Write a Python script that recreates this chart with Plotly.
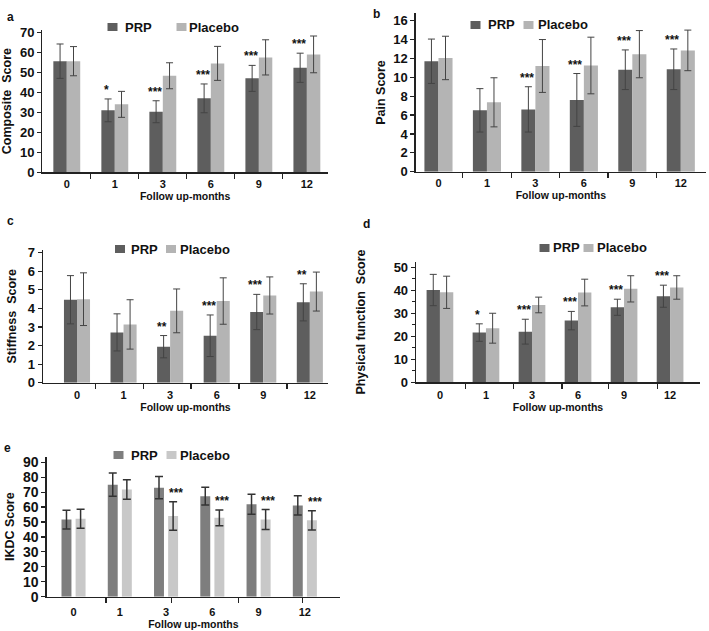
import plotly.graph_objects as go

# ---------------- data ----------------
months = ["0", "1", "3", "6", "9", "12"]
groups = ["PRP", "Placebo"]

# a: Composite score
composite_prp = [55.6, 31.0, 30.3, 37.0, 47.0, 52.3]
composite_prp_sd = [8.6, 5.7, 5.5, 7.2, 6.5, 7.3]
composite_placebo = [55.6, 34.0, 48.3, 54.5, 57.5, 59.0]
composite_placebo_sd = [7.3, 6.5, 6.5, 8.5, 8.8, 9.2]
composite_sig = ["", "*", "***", "***", "***", "***"]

# b: Pain score
pain_prp = [11.7, 6.5, 6.6, 7.6, 10.8, 10.85]
pain_prp_sd = [2.35, 2.3, 2.4, 2.8, 2.1, 2.15]
pain_placebo = [12.05, 7.35, 11.2, 11.25, 12.45, 12.85]
pain_placebo_sd = [2.3, 2.6, 2.8, 3.0, 2.5, 2.15]
pain_sig = ["", "", "***", "***", "***", "***"]

# c: Stiffness score
stiff_prp = [4.47, 2.71, 1.94, 2.53, 3.81, 4.33]
stiff_prp_sd = [1.3, 1.0, 0.6, 1.12, 0.95, 1.0]
stiff_placebo = [4.5, 3.14, 3.87, 4.4, 4.7, 4.91]
stiff_placebo_sd = [1.42, 1.33, 1.18, 1.25, 1.0, 1.05]
stiff_sig = ["", "", "**", "***", "***", "**"]

# d: Physical function score
phys_prp = [40.1, 21.6, 22.0, 26.8, 32.6, 37.4]
phys_prp_sd = [6.8, 3.8, 5.4, 4.0, 3.5, 4.8]
phys_placebo = [39.1, 23.5, 33.6, 39.0, 40.6, 41.2]
phys_placebo_sd = [7.0, 6.5, 3.4, 5.8, 5.7, 5.1]
phys_sig = ["", "*", "***", "***", "***", "***"]

# e: IKDC score
ikdc_prp = [51.6, 75.0, 73.0, 67.3, 61.8, 61.1]
ikdc_prp_sd = [6.3, 7.8, 7.5, 6.0, 6.7, 6.4]
ikdc_placebo = [52.2, 71.8, 54.0, 52.8, 51.6, 51.1]
ikdc_placebo_sd = [6.4, 6.5, 9.5, 5.3, 6.7, 6.4]
ikdc_sig = ["", "", "***", "***", "***", "***"]

x_title = "Follow up-months"

# ---------------- style ----------------
W, H = 709, 631
FONT = "Liberation Sans"
TXT = "#111111"
AX = "#222222"


def fx(p):
    return p / W


def fy(p):
    return 1 - p / H


panels = [
    dict(letter="a", ytitle="Composite  Score",
         prp=composite_prp, prp_sd=composite_prp_sd,
         pla=composite_placebo, pla_sd=composite_placebo_sd, sig=composite_sig,
         sig_on="prp", xd=(42.3, 328), yd=(172.3, 30), xr=(-0.51, 5.44), yr=(0, 71.2),
         dtick=10, yminor=None, xminor=[0.5, 1.5, 2.5, 3.5, 4.5],
         c1="#5e5e5e", c2="#b4b4b4", ec="#444444", ew=1, cap=3.5,
         off=(-0.28, 0.0), bw=0.28, letter_pos=(5, 17),
         leg_y=27, leg_sw=(107.5, 176.5), leg_tx=(123, 187),
         ytick_size=13, ystand=5, xtl=1, xstand=0),
    dict(letter="b", ytitle="Pain Score",
         prp=pain_prp, prp_sd=pain_prp_sd,
         pla=pain_placebo, pla_sd=pain_placebo_sd, sig=pain_sig,
         sig_on="prp", xd=(415.7, 706), yd=(171.7, 13.3), xr=(-0.47, 5.52), yr=(0, 16.78),
         dtick=2, yminor=None, xminor=[0.5, 1.5, 2.5, 3.5, 4.5],
         c1="#5e5e5e", c2="#b4b4b4", ec="#444444", ew=1, cap=3.5,
         off=(-0.29, 0.0), bw=0.29, letter_pos=(371, 14),
         leg_y=25, leg_sw=(470.5, 523.5), leg_tx=(486, 536),
         ytick_size=13, ystand=5, xtl=1, xstand=0),
    dict(letter="c", ytitle="Stiffness  Score",
         prp=stiff_prp, prp_sd=stiff_prp_sd,
         pla=stiff_placebo, pla_sd=stiff_placebo_sd, sig=stiff_sig,
         sig_on="prp", xd=(43, 328), yd=(382.7, 250), xr=(-0.73, 5.39), yr=(0, 7.15),
         dtick=1, yminor=None, xminor=[0.39, 1.42, 2.45, 3.48, 4.51],
         c1="#5e5e5e", c2="#b4b4b4", ec="#444444", ew=1, cap=3.5,
         off=(-0.28, 0.0), bw=0.28, letter_pos=(5, 221),
         leg_y=249, leg_sw=(115, 166), leg_tx=(129, 178),
         ytick_size=13, ystand=8, xtl=2, xstand=1),
    dict(letter="d", ytitle="Physical function  Score",
         prp=phys_prp, prp_sd=phys_prp_sd,
         pla=phys_placebo, pla_sd=phys_placebo_sd, sig=phys_sig,
         sig_on="prp", xd=(416, 700), yd=(382.3, 261.7), xr=(-0.52, 5.65), yr=(0, 52.4),
         dtick=10, yminor=5, xminor=[0.55, 1.59, 2.65, 3.67, 4.72],
         c1="#5e5e5e", c2="#b4b4b4", ec="#444444", ew=1, cap=3.5,
         off=(-0.29, 0.0), bw=0.29, letter_pos=(361, 224),
         leg_y=248, leg_sw=(539.5, 583.5), leg_tx=(550.5, 595),
         ytick_size=13, ystand=25, xtl=2, xstand=1),
    dict(letter="e", ytitle="IKDC Score",
         prp=ikdc_prp, prp_sd=ikdc_prp_sd,
         pla=ikdc_placebo, pla_sd=ikdc_placebo_sd, sig=ikdc_sig,
         sig_on="placebo", xd=(46.7, 340), yd=(596.7, 456.7), xr=(-0.58, 5.76), yr=(0, 93.7),
         dtick=10, yminor=None, xminor=[0.70, 2.12, 3.57, 4.95],
         c1="#7e7e7e", c2="#c8c8c8", ec="#333333", ew=1.5, cap=4,
         off=(-0.26, 0.045), bw=0.215, letter_pos=(2, 448),
         leg_y=455, leg_sw=(113.5, 166.5), leg_tx=(129, 177.5),
         ytick_size=14, ystand=5, xtl=5, xstand=0),
]

SW_W, SW_H = 10, 8  # legend swatch size in px

idx = list(range(len(months)))
fig = go.Figure()
layout = dict(
    template="none",
    width=W, height=H, margin=dict(l=0, r=0, t=0, b=0, autoexpand=False),
    paper_bgcolor="white", plot_bgcolor="white", showlegend=False,
    barmode="overlay", font=dict(family=FONT, color=TXT),
)
annotations = []
shapes = []

for k, p in enumerate(panels):
    n = "" if k == 0 else str(k + 1)
    xa, ya = "x" + n, "y" + n
    cols = (p["c1"], p["c2"])
    for gi, (vals, sd) in enumerate([(p["prp"], p["prp_sd"]),
                                     (p["pla"], p["pla_sd"])]):
        fig.add_trace(go.Bar(
            x=idx, y=vals, name=groups[gi], xaxis=xa, yaxis=ya,
            width=p["bw"], offset=p["off"][gi],
            marker=dict(color=cols[gi], line=dict(width=0)),
            error_y=dict(type="data", array=sd, color=p["ec"],
                         thickness=p["ew"], width=p["cap"]),
            hoverinfo="skip",
        ))
        # legend entry (swatch + label) for this panel
        sx = p["leg_sw"][gi]
        shapes.append(dict(
            type="rect", xref="paper", yref="paper",
            x0=fx(sx), x1=fx(sx + SW_W),
            y0=fy(p["leg_y"] + SW_H / 2), y1=fy(p["leg_y"] - SW_H / 2),
            fillcolor=cols[gi], line=dict(width=0),
        ))
        annotations.append(dict(
            x=fx(p["leg_tx"][gi]), y=fy(p["leg_y"]), xref="paper", yref="paper",
            text=groups[gi], showarrow=False, xanchor="left", yanchor="middle",
            font=dict(family=FONT, size=13, weight="bold", color=TXT),
        ))
    # significance stars
    if p["sig_on"] == "prp":
        vals, sd = p["prp"], p["prp_sd"]
        dx = p["off"][0] + p["bw"] / 2 - 0.03
    else:
        vals, sd = p["pla"], p["pla_sd"]
        dx = p["off"][1] + p["bw"] / 2 + 0.06
    for i, s in enumerate(p["sig"]):
        if s:
            annotations.append(dict(
                x=i + dx, y=vals[i] + sd[i], xref=xa, yref=ya, text=s,
                showarrow=False, yanchor="bottom", xanchor="center",
                font=dict(family=FONT, size=12, weight="bold", color=TXT),
            ))
    # panel letter
    annotations.append(dict(
        x=fx(p["letter_pos"][0]), y=fy(p["letter_pos"][1]), xref="paper", yref="paper",
        text=p["letter"], showarrow=False, xanchor="left", yanchor="middle",
        font=dict(family=FONT, size=12, weight="bold", color=TXT),
    ))
    xkey = "xaxis" + n
    ykey = "yaxis" + n
    layout[xkey] = dict(
        domain=[fx(p["xd"][0]), fx(p["xd"][1])], anchor=ya, range=list(p["xr"]),
        automargin=False,
        tickmode="array", tickvals=idx, ticktext=months,
        ticks="outside", ticklen=p["xtl"], tickcolor="rgba(0,0,0,0)",
        tickfont=dict(family=FONT, size=11, weight="bold", color=TXT),
        showline=True, linecolor=AX, linewidth=1.3, showgrid=False, zeroline=False,
        minor=dict(tickmode="array", tickvals=p["xminor"], ticks="outside",
                   ticklen=5, tickwidth=1.2, tickcolor=AX, showgrid=False),
        title=dict(text=x_title, standoff=p["xstand"],
                   font=dict(family=FONT, size=10.5, weight="bold", color=TXT)),
        fixedrange=True,
    )
    ydict = dict(
        domain=[fy(p["yd"][0]), fy(p["yd"][1])], anchor=xa, range=list(p["yr"]),
        automargin=False,
        tickmode="linear", tick0=0, dtick=p["dtick"],
        ticks="outside", ticklen=4, tickwidth=1.2, tickcolor=AX,
        tickfont=dict(family=FONT, size=p["ytick_size"], weight="bold", color=TXT),
        showline=True, linecolor=AX, linewidth=1.3, showgrid=False, zeroline=False,
        title=dict(text=p["ytitle"], standoff=p["ystand"],
                   font=dict(family=FONT, size=12.5, weight="bold", color=TXT)),
        fixedrange=True,
    )
    if p["yminor"]:
        ydict["minor"] = dict(dtick=p["yminor"], ticks="outside", ticklen=2.5,
                              tickwidth=1, tickcolor=AX, showgrid=False)
    layout[ykey] = ydict

layout["annotations"] = annotations
layout["shapes"] = shapes
fig.update_layout(**layout)
fig.write_html("out.html",
               config={"displayModeBar": False, "staticPlot": True},
               post_script="document.body.style.margin='0px';document.body.style.padding='0px';")
